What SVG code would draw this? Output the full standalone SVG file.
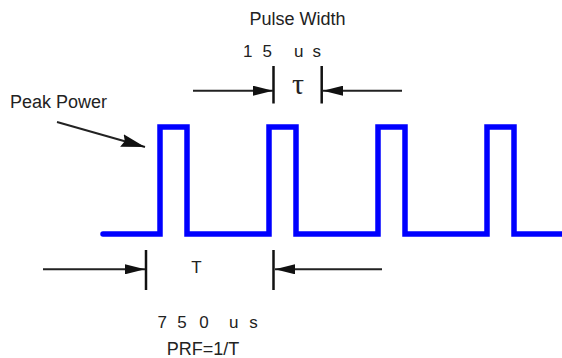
<svg xmlns="http://www.w3.org/2000/svg" width="562" height="358" viewBox="0 0 562 358">
<style>
  .lbl { font-family: "Liberation Sans", Arial, sans-serif; fill: #222; }
  .big { font-size: 18px; }
  .mid { font-size: 17px; }
  .ln { stroke: #222; stroke-width: 2; fill: none; }
  .bar { stroke: #111; stroke-width: 2.5; fill: none; }
  .wave { stroke: #0000ff; stroke-width: 5.5; fill: none; stroke-linejoin: miter; stroke-linecap: round; }
</style>
<defs>
  <marker id="ah" markerUnits="userSpaceOnUse" markerWidth="20" markerHeight="10" refX="20" refY="5" orient="auto">
    <path d="M0,0 L20,5 L0,10 z" fill="#111"/>
  </marker>
  <marker id="ahb" markerUnits="userSpaceOnUse" markerWidth="24" markerHeight="13" refX="24" refY="6.5" orient="auto">
    <path d="M0,0 L24,6.5 L0,13 L3,6.5 z" fill="#111"/>
  </marker>
</defs>
<rect width="562" height="358" fill="#fff"/>

<g id="waveform">
  <path class="wave" d="M103,234 H160 V127 H187 V234 H269 V127 H296 V234 H378 V127 H405 V234 H487 V127 H514 V234 H565"/>
</g>

<g id="pulse-width-label">
  <text class="lbl big" x="297.5" y="25" text-anchor="middle">Pulse Width</text>
  <text class="lbl mid" y="56.7" xml:space="preserve" x="243 252 262.5 272 280 287 294 303 312.5">1 5   u s</text>
  <text x="298" y="94" text-anchor="middle" font-family="'Liberation Serif', 'Times New Roman', serif" font-size="30" fill="#222">τ</text>
</g>

<g id="peak-power-label">
  <text class="lbl big" x="58.5" y="107.7" text-anchor="middle">Peak Power</text>
</g>

<g id="period-label">
  <text class="lbl mid" x="196.5" y="273" text-anchor="middle">T</text>
  <text class="lbl mid" y="328" xml:space="preserve" x="157.5 167 177.2 187 199.2 208 216 229 238 249.3">7 5 0  u s</text>
  <text class="lbl big" x="203" y="355" text-anchor="middle">PRF=1/T</text>
</g>

<g id="dimension-bars">
  <line class="bar" x1="273.5" y1="66" x2="273.5" y2="103.5"/>
  <line class="bar" x1="321.7" y1="66" x2="321.7" y2="103.5"/>
  <line class="bar" x1="146" y1="250" x2="146" y2="290"/>
  <line class="bar" x1="273.5" y1="250" x2="273.5" y2="290"/>
</g>

<g id="connectors">
  <line class="ln" x1="193" y1="90.7" x2="273" y2="90.7" marker-end="url(#ah)"/>
  <line class="ln" x1="402" y1="90.7" x2="323" y2="90.7" marker-end="url(#ah)"/>
  <line class="ln" x1="43" y1="269.3" x2="145" y2="269.3" marker-end="url(#ah)"/>
  <line class="ln" x1="382" y1="269.3" x2="275" y2="269.3" marker-end="url(#ah)"/>
  <line class="ln" x1="57" y1="122" x2="145" y2="147" marker-end="url(#ahb)"/>
</g>
</svg>
